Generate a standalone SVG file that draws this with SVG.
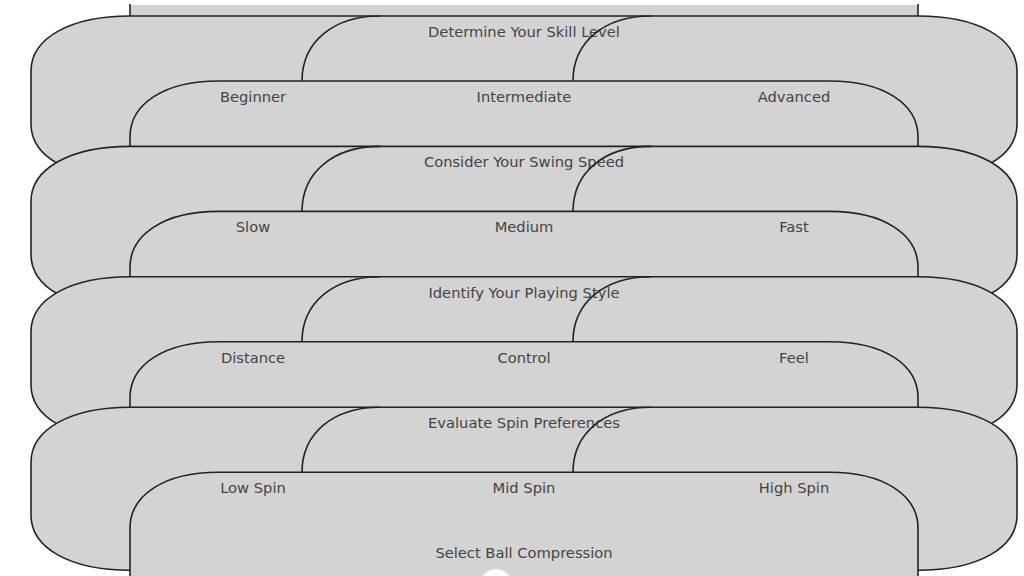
<svg xmlns="http://www.w3.org/2000/svg" xmlns:xlink="http://www.w3.org/1999/xlink" width="1024" height="576" viewBox="0 0 1024 576">
<style>
.shape{fill:#d3d3d3;stroke:#222;stroke-width:1.6}
.lbl{font-family:"DejaVu Sans",Verdana,sans-serif;font-size:14.7px;fill:#444;text-anchor:middle}
.conn{fill:none;stroke:#222;stroke-width:1.6}
</style>
<defs>
<path id="qshape" class="shape" d="M130,0 H918 C977.4,0 1017,22 1017,55 V108 C1017,141 977.4,163 918,163 H130 C70.6,163 31,141 31,108 V55 C31,22 70.6,0 130,0 Z"/>
<path id="band" class="shape" d="M218,0 H830 C882.8,0 918,22.4 918,56 V107 C918,140.6 882.8,163 830,163 H218 C165.2,163 130,140.6 130,107 V56 C130,22.4 165.2,0 218,0 Z"/>
<path id="links" class="conn" d="M302,65 C302,26 333.2,0 380,0 M573,65 C573,26 604.2,0 651,0"/>
</defs>
<rect width="1024" height="576" fill="#fff"/>
<g id="prev-options">
<rect x="130" y="5" width="788" height="13" fill="#d3d3d3"/>
<path d="M130,4 V17 M918,4 V17" stroke="#222" stroke-width="1.6" fill="none"/>
</g>
<g id="skill">
<use xlink:href="#qshape" href="#qshape" y="16"/>
<text class="lbl" x="524" y="36.7">Determine Your Skill Level</text>
</g>
<g id="skill-options">
<use xlink:href="#band" href="#band" y="81"/>
<g id="beginner"><text class="lbl" x="253" y="101.7">Beginner</text></g>
<g id="intermediate"><text class="lbl" x="524" y="101.7">Intermediate</text></g>
<g id="advanced"><text class="lbl" x="794" y="101.7">Advanced</text></g>
</g>
<g id="swing">
<use xlink:href="#qshape" href="#qshape" y="146.4"/>
<text class="lbl" x="524" y="167.1">Consider Your Swing Speed</text>
</g>
<g id="swing-options">
<use xlink:href="#band" href="#band" y="211.4"/>
<g id="slow"><text class="lbl" x="253" y="232.1">Slow</text></g>
<g id="medium"><text class="lbl" x="524" y="232.1">Medium</text></g>
<g id="fast"><text class="lbl" x="794" y="232.1">Fast</text></g>
</g>
<g id="style">
<use xlink:href="#qshape" href="#qshape" y="276.8"/>
<text class="lbl" x="524" y="297.5">Identify Your Playing Style</text>
</g>
<g id="style-options">
<use xlink:href="#band" href="#band" y="341.8"/>
<g id="distance"><text class="lbl" x="253" y="362.5">Distance</text></g>
<g id="control"><text class="lbl" x="524" y="362.5">Control</text></g>
<g id="feel"><text class="lbl" x="794" y="362.5">Feel</text></g>
</g>
<g id="spin">
<use xlink:href="#qshape" href="#qshape" y="407.2"/>
<text class="lbl" x="524" y="427.9">Evaluate Spin Preferences</text>
</g>
<g id="spin-options">
<use xlink:href="#band" href="#band" y="472.2"/>
<g id="low-spin"><text class="lbl" x="253" y="493.2">Low Spin</text></g>
<g id="mid-spin"><text class="lbl" x="524" y="493.2">Mid Spin</text></g>
<g id="high-spin"><text class="lbl" x="794" y="493.2">High Spin</text></g>
</g>
<g id="compression">
<text class="lbl" x="524" y="557.5">Select Ball Compression</text>
</g>
<g id="end">
<circle cx="496" cy="585" r="16" fill="#fff" stroke="#e6e6e6" stroke-width="1"/>
</g>
<g id="connectors">
<use xlink:href="#links" href="#links" y="16"/>
<use xlink:href="#links" href="#links" y="146.4"/>
<use xlink:href="#links" href="#links" y="276.8"/>
<use xlink:href="#links" href="#links" y="407.2"/>
</g>
</svg>
